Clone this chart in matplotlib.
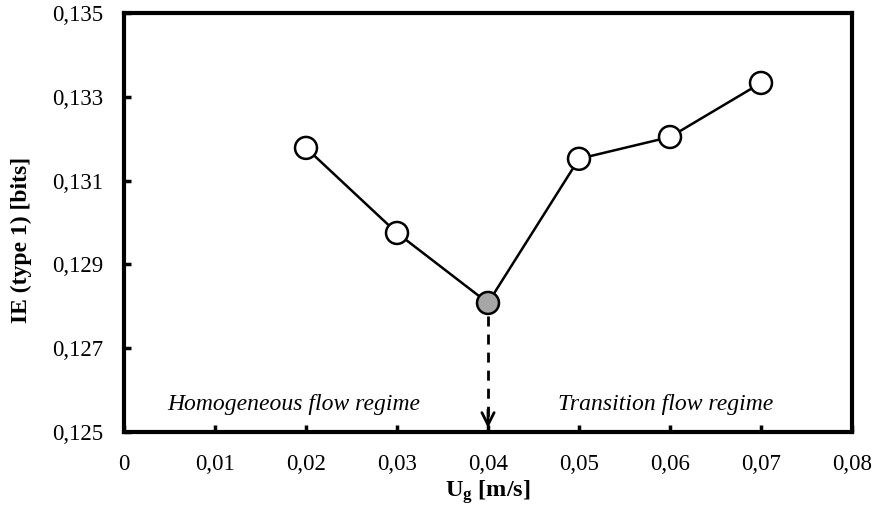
import matplotlib
matplotlib.use("Agg")
import matplotlib.pyplot as plt
from matplotlib.ticker import FuncFormatter

plt.rcParams["font.family"] = "Liberation Serif"
plt.rcParams["mathtext.fontset"] = "custom"
plt.rcParams["mathtext.rm"] = "Liberation Serif"
plt.rcParams["mathtext.bf"] = "Liberation Serif:bold"

ug = [0.02, 0.03, 0.04, 0.05, 0.06, 0.07]
ie = [0.13178, 0.12975, 0.12808, 0.13152, 0.13204, 0.13333]
transition_ug = 0.04
x_ticks = [0, 0.01, 0.02, 0.03, 0.04, 0.05, 0.06, 0.07, 0.08]
y_ticks = [0.125, 0.127, 0.129, 0.131, 0.133, 0.135]

fig = plt.figure(figsize=(8.77, 5.13), dpi=100)
ax = fig.add_axes([0.1414, 0.1579, 0.8301, 0.8168])

ax.plot(ug, ie, "-", color="black", lw=1.8, zorder=2)
face = ["#a6a6a6" if u == transition_ug else "white" for u in ug]
ax.scatter(ug, ie, s=250, c=face, edgecolors="black", linewidths=1.8, zorder=3)

# dashed arrow down to the axis at the regime transition
y_tr = ie[ug.index(transition_ug)]
ax.plot([transition_ug, transition_ug], [y_tr - 0.0003, 0.1253], color="black",
        lw=2, dashes=(3.6, 2.9), zorder=1)
ax.annotate("", xy=(transition_ug, 0.12503), xytext=(transition_ug, 0.1256),
            arrowprops=dict(arrowstyle="->", color="black", lw=2, mutation_scale=22))

ax.text(0.0186, 0.12565, "Homogeneous flow regime", style="italic", fontsize=17,
        ha="center", va="center")
ax.text(0.0595, 0.12565, "Transition flow regime", style="italic", fontsize=17,
        ha="center", va="center")

ax.set_xlim(0, 0.08)
ax.set_ylim(0.125, 0.135)
ax.set_xticks(x_ticks)
ax.set_yticks(y_ticks)
comma = FuncFormatter(lambda v, p: "0" if v == 0 else f"{v:g}".replace(".", ","))
ax.xaxis.set_major_formatter(comma)
ax.yaxis.set_major_formatter(FuncFormatter(lambda v, p: f"{v:.3f}".replace(".", ",")))
ax.tick_params(direction="in", length=5, width=2.5, labelsize=16.5, pad=15,
               top=False, right=False)
ax.tick_params(axis="x", pad=16)
for s in ax.spines.values():
    s.set_linewidth(3)

ax.set_xlabel(r"$\mathbf{U_g}$ [m/s]", fontsize=17.5, fontweight="bold")
ax.xaxis.set_label_coords(0.5, -0.11)
ax.set_ylabel("IE (type 1) [bits]", fontsize=17, fontweight="bold")
ax.yaxis.set_label_coords(-0.127, 0.458)

fig.savefig("out.png", dpi=100)
